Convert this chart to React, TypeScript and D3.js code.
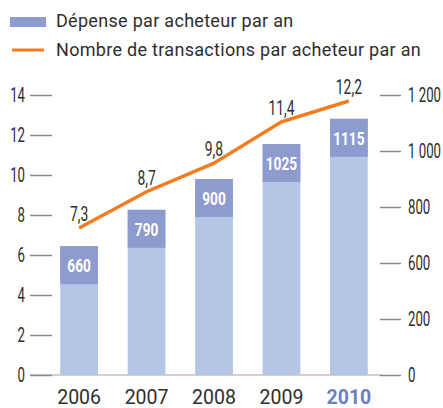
import React, { useEffect, useRef } from 'react';
import * as d3 from 'd3';

// data
const years = ['2006', '2007', '2008', '2009', '2010'];
const spend = [660, 790, 900, 1025, 1115];
const transactions = [7.3, 8.7, 9.8, 11.4, 12.2];
const leftTicks = [0, 2, 4, 6, 8, 10, 12, 14];
// the right axis in the source is labelled this way (one step is skipped)
const rightTickValues = [200, 400, 600, 800, 1000, 1200];
const rightTickLabels = ['0', '200', '600', '800', '1 000', '1 200'];

// squeeze a text horizontally to mimic a condensed face
const narrow = (sel: any, k: number, origin: string) =>
  sel.style('transform-box', 'fill-box')
    .style('transform-origin', origin)
    .style('transform', `scaleX(${k})`);

const App = () => {
  const svgRef = useRef<SVGSVGElement>(null);

  useEffect(() => {
    const width = 443;
    const height = 408;
    const svg = d3.select(svgRef.current);
    svg.selectAll('*').remove();

    const baseY = 375;
    const topY = 95;
    const font = 'Roboto, sans-serif';
    const textColor = '#2e2e2e';

    const x = d3.scaleBand().domain(years).range([40, 388]).paddingInner(0.44).paddingOuter(0.3);
    const yLeft = d3.scaleLinear().domain([0, 14]).range([baseY, topY]);
    const yBar = d3.scaleLinear().domain([200, 1200]).range([baseY, topY]);
    const yLine = d3.scaleLinear().domain([7.3, 12.2]).range([228, 101]);

    // legend
    svg.append('rect').attr('x', 10).attr('y', 17).attr('width', 36).attr('height', 10).attr('fill', '#8e9bcf');
    svg.append('text').attr('x', 56).attr('y', 27).attr('font-family', font).attr('font-size', 18)
      .attr('letter-spacing', 0.3).attr('fill', textColor).text('Dépense par acheteur par an');
    svg.append('line').attr('x1', 12).attr('x2', 44).attr('y1', 50).attr('y2', 50)
      .attr('stroke', '#f47c20').attr('stroke-width', 3);
    svg.append('text').attr('x', 56).attr('y', 56).attr('font-family', font).attr('font-size', 18)
      .attr('letter-spacing', 0.3).attr('fill', textColor).text('Nombre de transactions par acheteur par an');

    // baseline
    svg.append('line').attr('x1', 30).attr('x2', 382).attr('y1', baseY).attr('y2', baseY)
      .attr('stroke', '#cdbdbd').attr('stroke-width', 1.5);

    // left axis
    const left = svg.append('g').attr('transform', 'translate(52,0)')
      .call(d3.axisLeft(yLeft).tickValues(leftTicks).tickSize(22).tickPadding(5).tickFormat(d3.format('d')));
    left.select('.domain').remove();
    left.selectAll('line').attr('stroke', '#8a8a8a').attr('stroke-width', 1.5);
    narrow(left.selectAll('text').attr('font-family', font).attr('font-size', 21).attr('fill', textColor), 0.63, 'right');

    // right axis
    const right = svg.append('g').attr('transform', 'translate(380,0)')
      .call(d3.axisRight(yBar).tickValues(rightTickValues).tickSize(21).tickPadding(7)
        .tickFormat((d, i) => rightTickLabels[i]));
    right.select('.domain').remove();
    right.selectAll('line').attr('stroke', '#8a8a8a').attr('stroke-width', 1.5);
    narrow(right.selectAll('text').attr('font-family', font).attr('font-size', 21).attr('fill', textColor), 0.63, 'left');

    // bars
    const boxH = 38;
    const bars = svg.append('g');
    bars.selectAll('rect.bar').data(spend).enter().append('rect')
      .attr('class', 'bar')
      .attr('x', (d, i) => x(years[i]))
      .attr('width', x.bandwidth())
      .attr('y', d => yBar(d))
      .attr('height', d => baseY - yBar(d))
      .attr('fill', '#b3c6e6');
    bars.selectAll('rect.box').data(spend).enter().append('rect')
      .attr('class', 'box')
      .attr('x', (d, i) => x(years[i]))
      .attr('width', x.bandwidth())
      .attr('y', d => yBar(d))
      .attr('height', boxH)
      .attr('fill', '#8e9bcf');
    narrow(bars.selectAll('text').data(spend).enter().append('text')
      .attr('x', (d, i) => x(years[i]) + x.bandwidth() / 2)
      .attr('y', d => yBar(d) + boxH / 2 + 7)
      .attr('text-anchor', 'middle')
      .attr('font-family', font)
      .attr('font-weight', 'bold')
      .attr('font-size', 19)
      .attr('fill', 'white')
      .text(d => d), 0.72, 'center');

    // line
    const cx = (i: number) => x(years[i]) + x.bandwidth() / 2;
    const line = d3.line<number>().x((d, i) => cx(i)).y(d => yLine(d));
    svg.append('path').datum(transactions)
      .attr('fill', 'none').attr('stroke', '#f47c20').attr('stroke-width', 3.5).attr('d', line);
    narrow(svg.append('g').selectAll('text').data(transactions).enter().append('text')
      .attr('x', (d, i) => cx(i))
      .attr('y', d => yLine(d) - 7)
      .attr('text-anchor', 'middle')
      .attr('font-family', font)
      .attr('font-size', 21)
      .attr('fill', textColor)
      .text(d => d3.format('.1f')(d).replace('.', ',')), 0.66, 'center');

    // year labels
    svg.append('g').selectAll('text').data(years).enter().append('text')
      .attr('x', d => x(d) + x.bandwidth() / 2)
      .attr('y', 404)
      .attr('text-anchor', 'middle')
      .attr('font-family', font)
      .attr('font-size', 19.5)
      .attr('font-weight', (d, i) => (i === years.length - 1 ? 'bold' : 'normal'))
      .attr('fill', (d, i) => (i === years.length - 1 ? '#6b7fc2' : textColor))
      .text(d => d);

    svg.attr('width', width).attr('height', height);
  }, []);

  return (
    <svg ref={svgRef} width={443} height={408}
      style={{ position: 'absolute', left: 0, top: 0, background: 'white', display: 'block' }} />
  );
};

export default App;
